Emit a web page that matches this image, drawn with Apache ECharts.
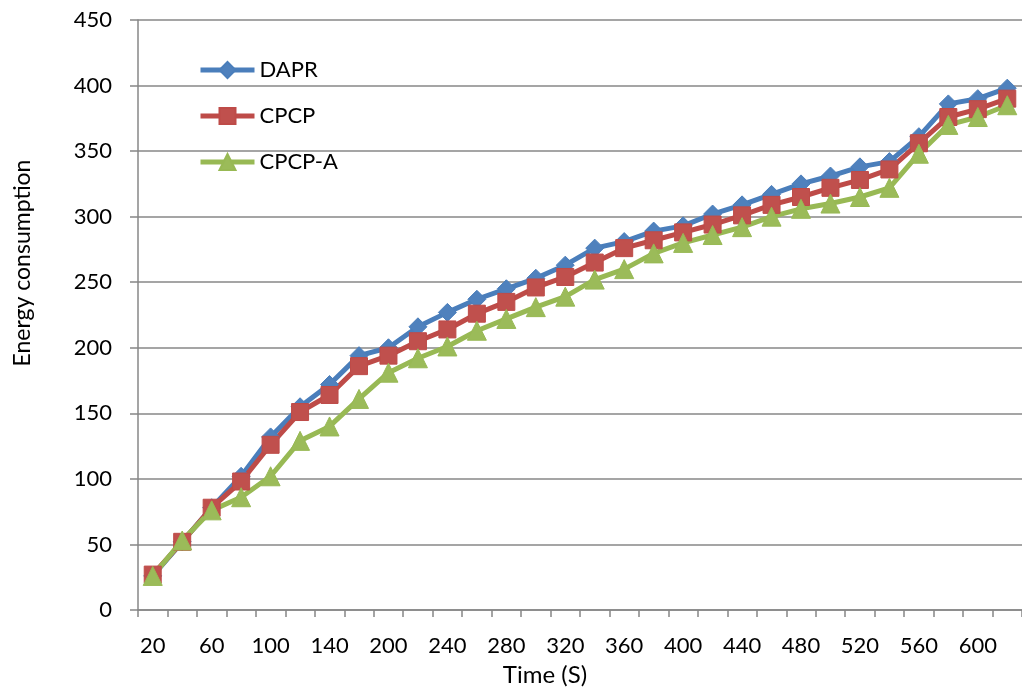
<!DOCTYPE html>
<html>
<head>
<meta charset="utf-8">
<script src="https://cdn.jsdelivr.net/npm/echarts@6/dist/echarts.min.js"></script>
<style>
    html, body { margin: 0; padding: 0; background: #fff; }
    #main { width: 1022px; height: 692px; }
</style>
</head>
<body>
<div id="main"></div>
<script>
// 横轴类别（奇数位标签隐藏）
var categories = ['20', '40', '60', '80', '100', '120', '140', '180', '200', '220',
    '240', '260', '280', '300', '320', '340', '360', '380', '400', '420',
    '440', '460', '480', '500', '520', '540', '560', '580', '600', '620'];

// 各算法能耗
var dapr = [26, 52, 78, 102, 132, 155, 172, 194, 200, 216, 227, 237, 245, 253, 263,
    276, 281, 289, 293, 302, 309, 317, 325, 331, 338, 342, 361, 386, 390, 398];
var cpcp = [27, 52, 78, 98, 126, 151, 164, 186, 194, 205, 214, 226, 235, 246, 254,
    265, 276, 282, 288, 294, 301, 309, 315, 322, 328, 336, 356, 376, 382, 390];
var cpcpA = [26, 53, 76, 86, 102, 129, 140, 161, 181, 192, 201, 213, 222, 231, 239,
    252, 260, 272, 280, 286, 292, 300, 306, 310, 315, 322, 348, 370, 376, 385];

var fontName = 'Lato';
var gridColor = '#878787';

var myChart = echarts.init(document.getElementById('main'));

function makeSeries(name, data, symbol, size, lineColor, markColor) {
    return {
        name: name,
        type: 'line',
        data: data,
        symbol: symbol,
        symbolSize: size,
        showAllSymbol: true,
        animation: false,
        lineStyle: { width: 5, color: lineColor },
        itemStyle: { color: markColor, borderColor: lineColor, borderWidth: 1 }
    };
}

var option = {
    backgroundColor: '#ffffff',
    animation: false,
    grid: { left: 138, right: -7, top: 20, bottom: 81 },
    legend: {
        orient: 'vertical',
        left: 198,
        top: 59,
        padding: 0,
        itemWidth: 54,
        itemHeight: 20,
        itemGap: 24,
        lineStyle: { width: 5 },
        textStyle: { fontFamily: fontName, fontSize: 22, lineHeight: 20, color: '#000' },
        data: ['DAPR', 'CPCP', 'CPCP-A']
    },
    xAxis: {
        type: 'category',
        data: categories,
        boundaryGap: true,
        name: 'Time (S)',
        nameLocation: 'middle',
        nameGap: 53,
        nameTextStyle: { fontFamily: fontName, fontSize: 24, color: '#000', padding: [0, 70, 0, 0] },
        axisLine: { lineStyle: { color: gridColor, width: 1.5 } },
        axisTick: { show: true, interval: 0, length: 7, lineStyle: { color: gridColor, width: 1.5 } },
        axisLabel: { interval: 1, margin: 25, fontFamily: fontName, fontSize: 22, color: '#000' },
        splitLine: { show: false }
    },
    yAxis: {
        type: 'value',
        min: 0,
        max: 450,
        interval: 50,
        name: 'Energy consumption',
        nameLocation: 'middle',
        nameGap: 104,
        nameTextStyle: { fontFamily: fontName, fontSize: 23, color: '#000', padding: [0, 0, 0, 104] },
        axisLine: { show: true, lineStyle: { color: gridColor, width: 1.5 } },
        axisTick: { show: true, inside: false, length: 8, lineStyle: { color: gridColor, width: 1.5 } },
        axisLabel: { margin: 26, fontFamily: fontName, fontSize: 22, color: '#000' },
        splitLine: { show: true, lineStyle: { color: gridColor, width: 1.5 } }
    },
    series: [
        makeSeries('DAPR', dapr, 'diamond', 18, '#4A7EBB', '#4F81BD'),
        makeSeries('CPCP', cpcp, 'rect', 17, '#BE4B48', '#C0504D'),
        makeSeries('CPCP-A', cpcpA, 'triangle', 19, '#98B954', '#9BBB59')
    ]
};

myChart.setOption(option);
</script>
</body>
</html>
